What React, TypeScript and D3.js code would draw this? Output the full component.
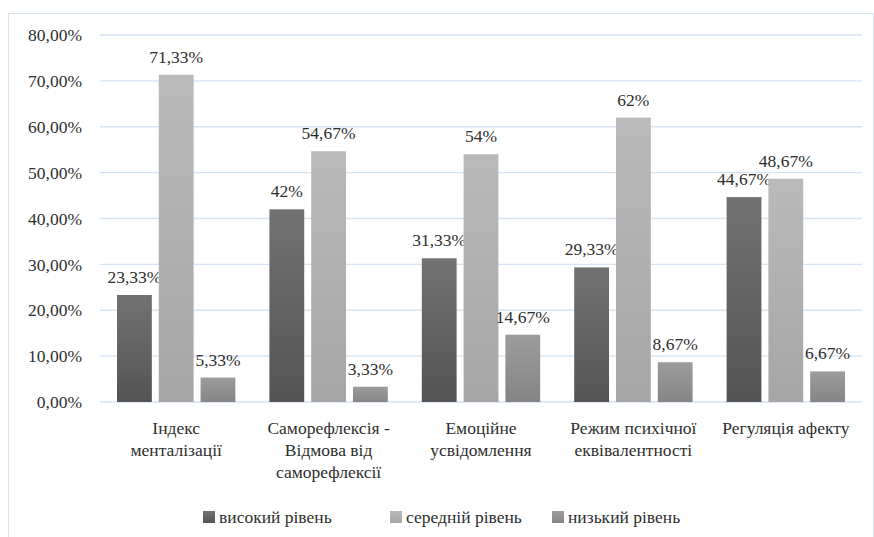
import * as d3 from 'd3';

const categories = [
    ['Індекс', 'менталізації'],
    ['Саморефлексія -', 'Відмова від', 'саморефлексії'],
    ['Емоційне', 'усвідомлення'],
    ['Режим психічної', 'еквівалентності'],
    ['Регуляція афекту'],
];
const seriesNames = ['високий рівень', 'середній рівень', 'низький рівень'];
const high = [23.33, 42, 31.33, 29.33, 44.67];
const mid = [71.33, 54.67, 54, 62, 48.67];
const low = [5.33, 3.33, 14.67, 8.67, 6.67];
const highLabels = ['23,33%', '42%', '31,33%', '29,33%', '44,67%'];
const midLabels = ['71,33%', '54,67%', '54%', '62%', '48,67%'];
const lowLabels = ['5,33%', '3,33%', '14,67%', '8,67%', '6,67%'];
const yTicks = [0, 10, 20, 30, 40, 50, 60, 70, 80];

const values = [high, mid, low];
const labels = [highLabels, midLabels, lowLabels];
const gradients = [
    ['#727272', '#545454'],
    ['#bababa', '#a6a6a6'],
    ['#9c9c9c', '#858585'],
];

const W = 874;
const H = 537;
const font = "'Times New Roman', 'Liberation Serif', 'DejaVu Serif', serif";
const fs = 17.5;
const textColor = '#2e2e2e';
const gridColor = '#d6e3f3';

export default function App() {
    const margin = { left: 100, right: 12, top: 35, bottom: 135 };
    const x0 = d3
        .scaleBand<number>()
        .domain(categories.map((_, i) => i))
        .range([margin.left, W - margin.right]);
    const x1 = d3
        .scaleBand<number>()
        .domain([0, 1, 2])
        .range([17, x0.bandwidth() - 17])
        .paddingInner(1 / 6);
    const y = d3.scaleLinear().domain([0, 80]).range([H - margin.bottom, margin.top]);

    const legendX = [203, 390, 552];

    return (
        <svg
            width={W}
            height={H}
            style={{ position: 'absolute', left: 0, top: 0, background: '#fff', fontFamily: font }}
        >
            <defs>
                {gradients.map((g, i) => (
                    <linearGradient key={i} id={`grad${i}`} x1="0" y1="0" x2="0" y2="1">
                        <stop offset="0%" stopColor={g[0]} />
                        <stop offset="100%" stopColor={g[1]} />
                    </linearGradient>
                ))}
            </defs>
            <rect x={8.5} y={13.5} width={865} height={540} fill="none" stroke={gridColor} />

            {/* grid + y ticks */}
            {yTicks.map((t) => (
                <g key={t}>
                    <line
                        x1={margin.left}
                        x2={W - margin.right}
                        y1={y(t)}
                        y2={y(t)}
                        stroke={gridColor}
                        strokeWidth={1.3}
                    />
                    <text x={82} y={y(t)} dy="0.35em" textAnchor="end" fontSize={fs} fill={textColor}>
                        {t.toFixed(2).replace('.', ',') + '%'}
                    </text>
                </g>
            ))}

            {/* bars */}
            {categories.map((_, ci) =>
                values.map((s, si) => {
                    const bx = (x0(ci) ?? 0) + (x1(si) ?? 0);
                    const bw = x1.bandwidth();
                    return (
                        <g key={`${ci}-${si}`}>
                            <rect
                                x={bx}
                                y={y(s[ci])}
                                width={bw}
                                height={y(0) - y(s[ci])}
                                fill={`url(#grad${si})`}
                            />
                            <text
                                x={bx + bw / 2}
                                y={y(s[ci]) - 12}
                                textAnchor="middle"
                                fontSize={fs}
                                fill={textColor}
                            >
                                {labels[si][ci]}
                            </text>
                        </g>
                    );
                })
            )}

            {/* category labels */}
            {categories.map((lines, ci) => (
                <text
                    key={ci}
                    x={(x0(ci) ?? 0) + x0.bandwidth() / 2}
                    y={434}
                    textAnchor="middle"
                    fontSize={fs}
                    fill={textColor}
                >
                    {lines.map((l, li) => (
                        <tspan key={li} x={(x0(ci) ?? 0) + x0.bandwidth() / 2} dy={li === 0 ? 0 : 22}>
                            {l}
                        </tspan>
                    ))}
                </text>
            ))}

            {/* legend */}
            {seriesNames.map((name, i) => (
                <g key={name} transform={`translate(${legendX[i]},517)`}>
                    <rect x={0} y={-6} width={12} height={12} fill={`url(#grad${i})`} />
                    <text x={16} y={0} dy="0.35em" fontSize={fs} fill={textColor}>
                        {name}
                    </text>
                </g>
            ))}
        </svg>
    );
}
